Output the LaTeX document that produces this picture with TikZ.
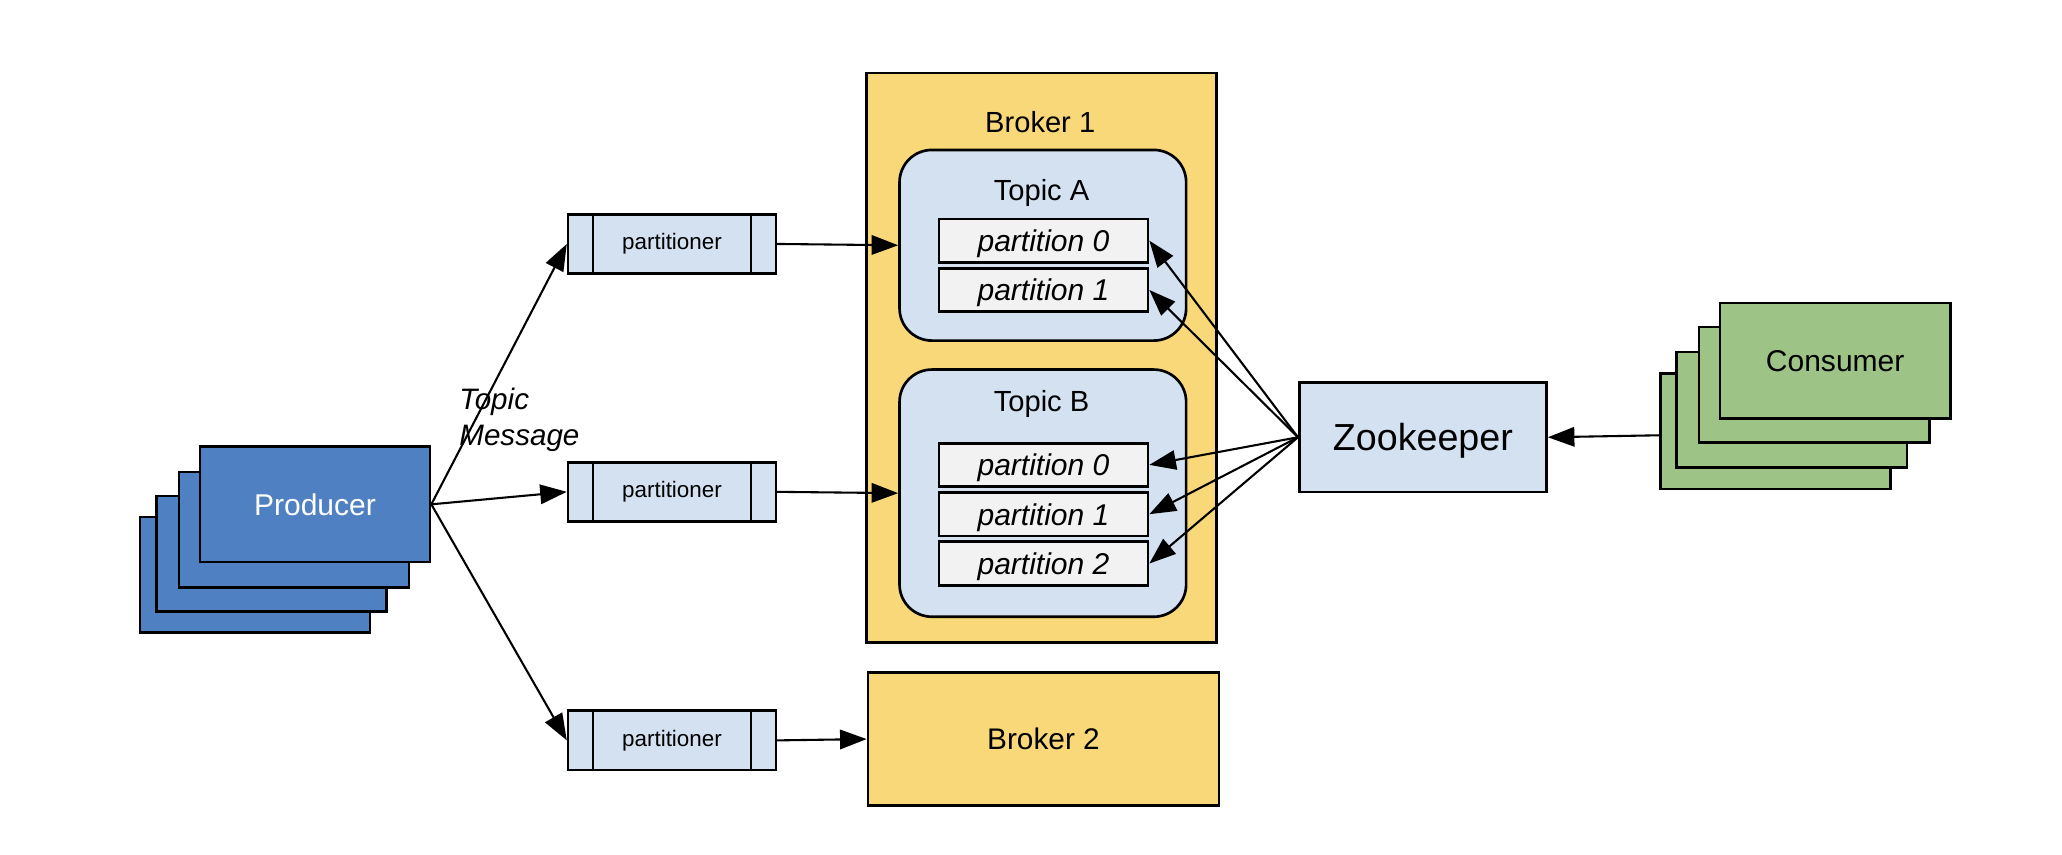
\documentclass[tikz,border=0pt]{standalone}
\usepackage{fontspec}
\setmainfont{Liberation Sans}
\usetikzlibrary{arrows.meta}
\definecolor{prodblue}{HTML}{4F81C2}
\definecolor{consgreen}{HTML}{9DC386}
\definecolor{brokeryellow}{HTML}{F8D878}
\definecolor{lightblue}{HTML}{D4E1F1}
\definecolor{partgray}{HTML}{F2F2F2}
\tikzset{
  box/.style={draw=black, line width=1.15pt, inner sep=0pt},
  prodbox/.style={box, fill=prodblue, minimum width=3.5cm, minimum height=1.75cm},
  consbox/.style={box, fill=consgreen, minimum width=3.5cm, minimum height=1.75cm},
  partbox/.style={box, fill=partgray, minimum width=3.18cm, minimum height=0.66cm, text depth=0pt, font=\fontsize{13}{15}\selectfont\itshape},
  topicbox/.style={box, fill=lightblue, rounded corners=14pt, minimum width=4.36cm},
  pnbox/.style={box, fill=lightblue, minimum width=3.16cm, minimum height=0.9cm, font=\fontsize{9.7}{11}\selectfont},
  conn/.style={line width=0.9pt, -{Triangle[length=11.5pt, width=8.4pt]}},
}
\begin{document}
\begin{tikzpicture}[x=0.02cm, y=-0.02cm]
\useasboundingbox (0,0) rectangle (1568,649.4);
% Producer stack
\node[prodbox] (p4) at (194,437) {};
\node[prodbox] (p3) at (206.5,421) {};
\node[prodbox] (p2) at (223.5,402.75) {};
\node[prodbox, text=white, font=\fontsize{13}{15}\selectfont] (prod) at (239.5,383.5) {Producer};
% Consumer stack
\node[consbox] (c4) at (1350,328) {};
\node[consbox] (c3) at (1362.5,311.5) {};
\node[consbox] (c2) at (1379.5,292.5) {};
\node[consbox, font=\fontsize{13}{15}\selectfont] (cons) at (1395.5,274.25) {Consumer};
% Partitioners
\foreach \n/\y in {pn1/185.5, pn2/374, pn3/563}{
  \node[pnbox] (\n) at (511,\y) {partitioner};
  \draw[line width=1.15pt] ([xshift=0.4cm]\n.north west) -- ([xshift=0.4cm]\n.south west);
  \draw[line width=1.15pt] ([xshift=-0.4cm]\n.north east) -- ([xshift=-0.4cm]\n.south east);
}
% Broker 1
\node[box, fill=brokeryellow, minimum width=5.32cm, minimum height=8.66cm] (b1) at (792,272) {};
\node[font=\fontsize{12.6}{15}\selectfont] (b1l) at (791,92.5) {Broker 1};
\node[topicbox, minimum height=2.9cm] (ta) at (793,186.5) {};
\node[font=\fontsize{12.6}{15}\selectfont] (tal) at (792,146.5) {Topic A};
\node[topicbox, minimum height=3.76cm] (tb) at (793,375) {};
\node[font=\fontsize{12.6}{15}\selectfont] (tbl) at (792,307.5) {Topic B};
\node[partbox] (a0) at (793.5,183) {partition 0};
\node[partbox] (a1) at (793.5,220.5) {partition 1};
\node[partbox] (bb0) at (793.5,353.5) {partition 0};
\node[partbox] (bb1) at (793.5,391) {partition 1};
\node[partbox] (bb2) at (793.5,428.5) {partition 2};
% Broker 2
\node[box, fill=brokeryellow, minimum width=5.34cm, minimum height=2.02cm, font=\fontsize{12.9}{15}\selectfont] (b2) at (793.5,562) {Broker 2};
% Zookeeper
\node[box, fill=lightblue, minimum width=3.76cm, minimum height=1.66cm, text depth=0pt, font=\fontsize{16.3}{19}\selectfont] (zk) at (1082,332.5) {Zookeeper};
% Topic Message label
\node[anchor=west, align=left, inner sep=0pt, font=\fontsize{12.8}{15.5}\selectfont\itshape] (tm) at (349,319) {Topic\\Message};
% Connectors
\draw[conn] (prod.east) -- (pn1.west);
\draw[conn] (prod.east) -- (pn2.west);
\draw[conn] (prod.east) -- (pn3.west);
\draw[conn] (pn1.east) -- (ta.west);
\draw[conn] (pn2.east) -- (tb.west);
\draw[conn] (pn3.east) -- (b2.west);
\draw[conn] (zk.west) -- (a0.east);
\draw[conn] (zk.west) -- (a1.east);
\draw[conn] (zk.west) -- (bb0.east);
\draw[conn] (zk.west) -- (bb1.east);
\draw[conn] (zk.west) -- (bb2.east);
\coordinate (cw) at (c4.west |- 0,331);
\draw[conn] (cw) -- (zk.east);
\end{tikzpicture}
\end{document}
